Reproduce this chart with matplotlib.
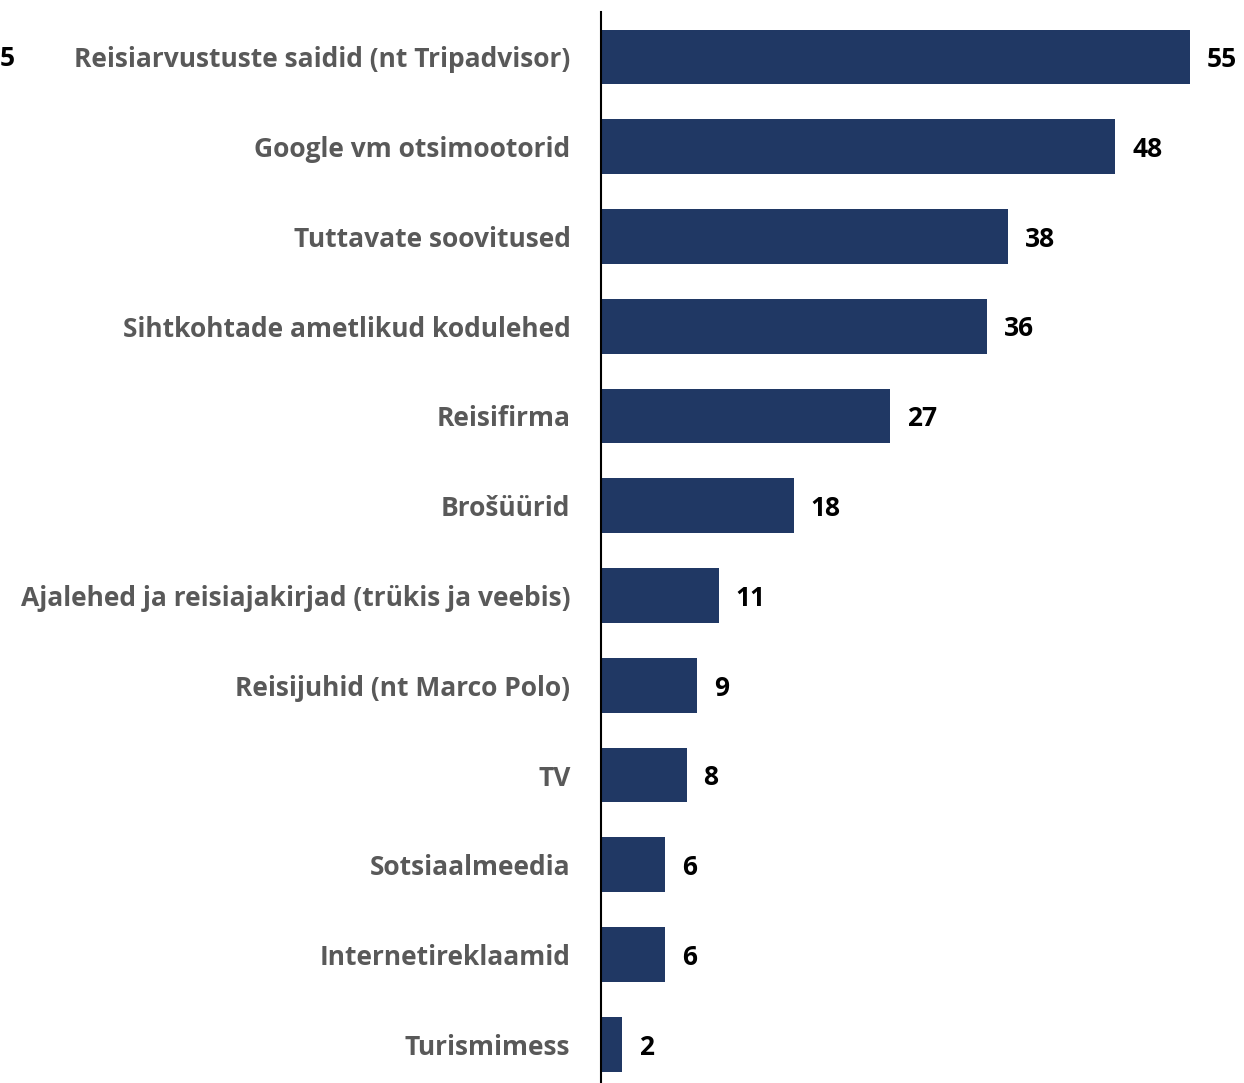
import matplotlib
matplotlib.use("Agg")
import matplotlib.pyplot as plt

categories = [
    "Reisiarvustuste saidid (nt Tripadvisor)",
    "Google vm otsimootorid",
    "Tuttavate soovitused",
    "Sihtkohtade ametlikud kodulehed",
    "Reisifirma",
    "Brošüürid",
    "Ajalehed ja reisiajakirjad (trükis ja veebis)",
    "Reisijuhid (nt Marco Polo)",
    "TV",
    "Sotsiaalmeedia",
    "Internetireklaamid",
    "Turismimess",
]
values = [55, 48, 38, 36, 27, 18, 11, 9, 8, 6, 6, 2]

bar_color = "#203864"
label_color = "#595959"
font = "Open Sans"

fig = plt.figure(figsize=(12.44, 10.83), dpi=100)
ax = fig.add_axes([601 / 1244, 0.0, 1 - 601 / 1244, 1 - 12 / 1083])

pos = list(range(len(categories)))
ax.barh(pos, values, height=0.61, color=bar_color)
ax.set_ylim(11.43, -0.5)
ax.set_xlim(0, 60)

for p, v in zip(pos, values):
    ax.annotate(str(v), (v, p), xytext=(12, -2), textcoords="offset points",
                ha="left", va="center", fontsize=19, fontweight="bold",
                family=font, color="black")

ax.set_yticks(pos)
ax.set_yticklabels(categories, fontsize=19, fontweight="bold",
                   family=font, color=label_color)
ax.tick_params(axis="y", length=0, pad=22)
ax.set_xticks([])
for s in ["top", "right", "bottom"]:
    ax.spines[s].set_visible(False)
ax.spines["left"].set_linewidth(1.5)
ax.spines["left"].set_color("black")

# stray value label at the left edge of the original picture
fig.text(0.0, 1 - 59 / 1083, "5", fontsize=19, fontweight="bold",
         family=font, color="black", ha="left", va="center")

fig.savefig("out.png", dpi=100)
